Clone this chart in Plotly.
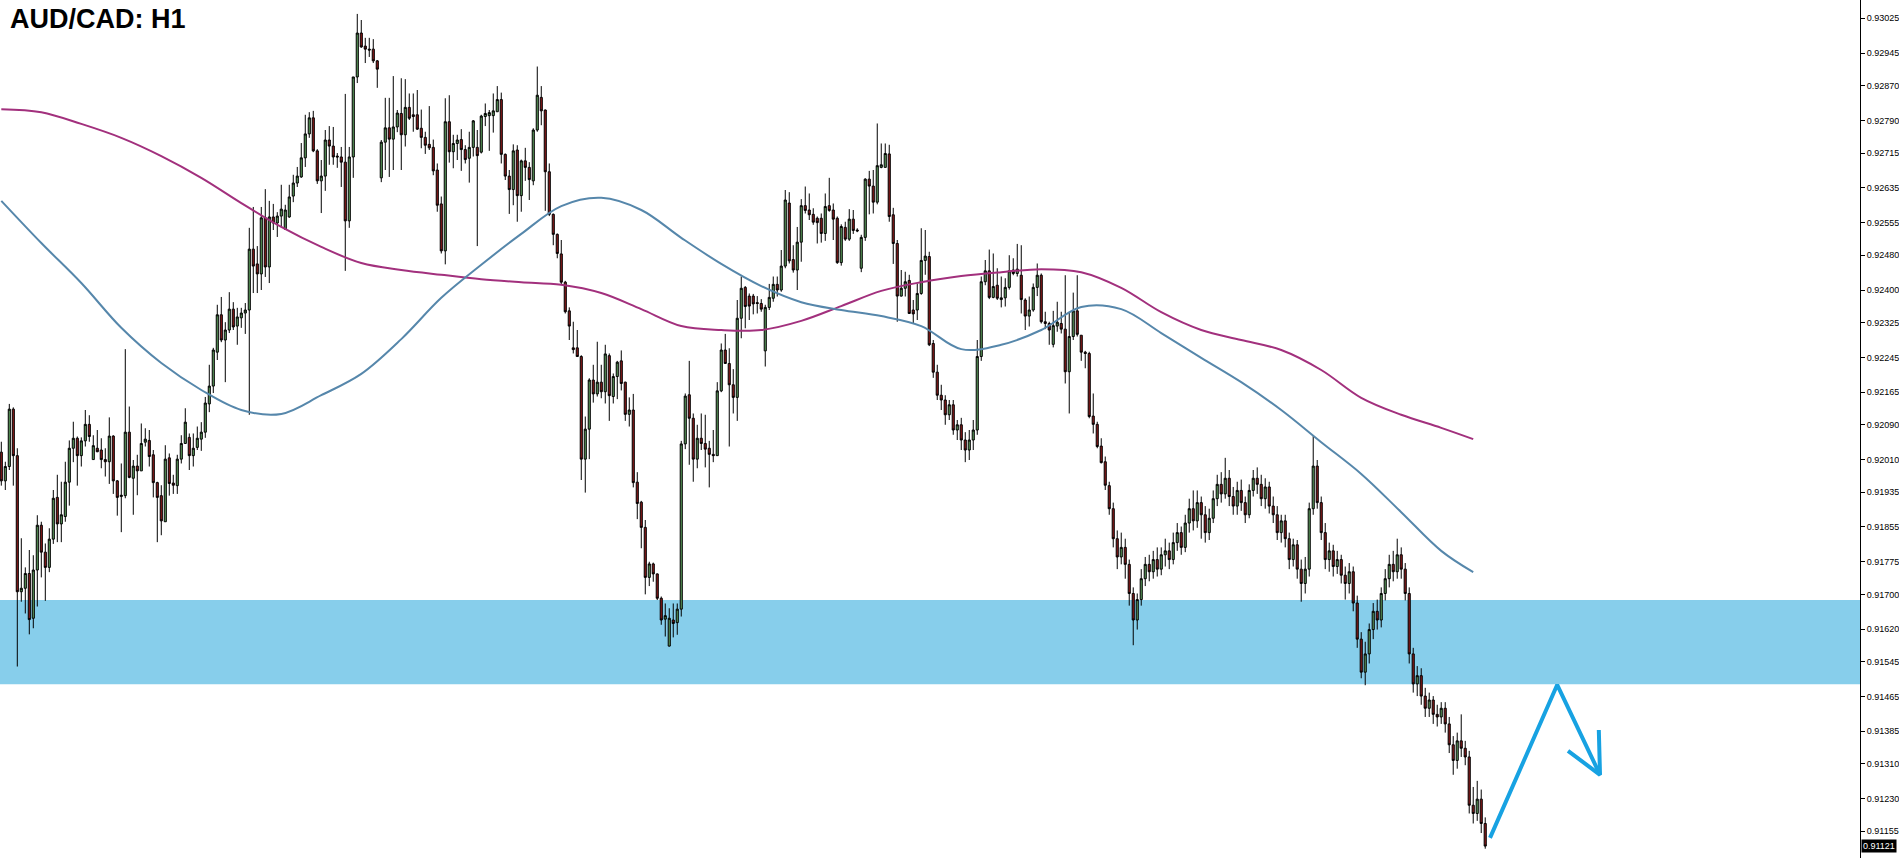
import numpy as np
import plotly.graph_objects as go

# ---- price data (in points, 1 point = 0.00001) ----
OPEN_PTS = [92027,91961,91994,92126,92019,91706,91714,91748,91645,91756,91859,91797,91762,91827,91923,91862,91879,91958,92036,92059,
92019,92053,92091,92010,92036,92032,92010,92005,92064,91961,91925,91927,92073,91967,91995,91984,92050,92054,92021,91957,
91927,91867,92014,91956,91950,92011,92047,92061,92019,92038,92057,92073,92138,92179,92257,92343,92285,92308,92356,92317,
92336,92347,92354,92494,92460,92437,92566,92453,92568,92554,92570,92540,92568,92616,92646,92660,92704,92759,92796,92720,
92651,92662,92745,92731,92708,92706,92694,92559,92706,92890,92991,92961,92954,92954,92927,92658,92740,92773,92747,92775,
92806,92757,92820,92803,92803,92772,92751,92735,92728,92676,92598,92490,92787,92718,92737,92746,92723,92703,92728,92728,
92717,92799,92801,92801,92810,92838,92712,92662,92631,92722,92617,92697,92682,92651,92768,92843,92814,92672,92574,92528,
92483,92418,92352,92267,92267,92247,92011,92080,92193,92161,92188,92166,92249,92155,92201,92237,92188,92114,92124,91958,
91912,91854,91739,91770,91747,91691,91643,91581,91641,91635,91666,92046,92159,92105,92011,92059,92047,92036,92022,92019,
92168,92262,92231,92182,92153,92335,92406,92386,92386,92371,92369,92260,92360,92381,92413,92400,92455,92600,92470,92446,
92510,92594,92584,92574,92565,92565,92530,92594,92584,92565,92463,92544,92517,92563,92538,92450,92521,92655,92639,92602,
92682,92682,92713,92573,92507,92386,92404,92422,92354,92354,92392,92468,92477,92277,92211,92158,92147,92113,92136,92078,
92090,92055,92032,92055,92078,92247,92419,92444,92383,92411,92378,92382,92406,92446,92438,92434,92377,92340,92354,92406,
92434,92327,92323,92275,92317,92323,92310,92212,92293,92352,92296,92257,92254,92110,92091,92041,92005,91950,91897,91828,
91786,91808,91769,91702,91641,91688,91736,91769,91752,91780,91758,91791,91800,91780,91819,91842,91808,91864,91897,91869,
91911,91883,91842,91875,91920,91953,91931,91967,91925,91903,91939,91911,91883,91939,91967,91953,91920,91947,91903,91883,
91842,91869,91828,91780,91814,91758,91725,91758,91897,91995,91911,91842,91780,91800,91764,91780,91744,91725,91752,91680,
91597,91521,91563,91619,91661,91641,91702,91736,91769,91752,91791,91758,91702,91563,91494,91513,91466,91438,91457,91424,
91418,91438,91402,91354,91318,91363,91346,91326,91215,91196,91229,91173]
HIGH_PTS = [92051,92005,92138,92130,92036,91829,91762,91802,91790,91882,91867,91817,91852,91940,91975,91959,92005,92054,92097,92063,
92061,92124,92112,92066,92078,92059,92036,92107,92066,91963,92001,92264,92132,92009,92021,92093,92082,92078,92032,91959,
91951,92043,92024,91975,92021,92066,92128,92070,92070,92086,92096,92154,92228,92267,92366,92384,92326,92395,92372,92359,
92359,92370,92543,92591,92501,92591,92632,92605,92598,92579,92642,92596,92642,92665,92683,92738,92803,92809,92812,92724,
92699,92768,92777,92775,92715,92729,92851,92729,92890,93035,93021,92980,92980,92977,92929,92745,92842,92842,92892,92814,
92887,92885,92852,92852,92860,92815,92764,92823,92746,92691,92615,92841,92848,92757,92757,92770,92733,92764,92791,92768,
92803,92829,92814,92852,92869,92854,92714,92676,92735,92733,92700,92727,92694,92772,92914,92869,92815,92691,92576,92530,
92515,92421,92360,92327,92308,92250,92109,92197,92228,92281,92228,92274,92254,92208,92237,92261,92189,92153,92161,91981,
91915,91871,91775,91773,91748,91695,91679,91668,91679,91679,92053,92162,92237,92116,92090,92116,92113,92053,92078,92188,
92277,92299,92266,92218,92377,92431,92409,92392,92391,92386,92379,92366,92414,92431,92431,92492,92630,92625,92503,92545,
92609,92638,92622,92588,92569,92576,92622,92658,92599,92569,92551,92557,92586,92584,92542,92527,92657,92674,92676,92783,
92737,92737,92734,92589,92515,92446,92442,92435,92377,92415,92542,92538,92488,92285,92228,92182,92158,92147,92147,92101,
92106,92073,92078,92101,92285,92431,92469,92493,92484,92450,92431,92427,92480,92473,92506,92503,92381,92385,92415,92461,
92438,92350,92327,92352,92373,92350,92434,92350,92394,92434,92296,92260,92258,92162,92097,92059,92017,91959,91911,91847,
91842,91828,91780,91716,91702,91758,91786,91791,91800,91808,91808,91828,91819,91842,91864,91856,91883,91920,91939,91939,
91925,91903,91897,91939,91975,91981,92014,91986,91947,91959,91964,91925,91953,91986,91992,91975,91967,91959,91925,91903,
91883,91883,91842,91828,91825,91780,91786,91911,92064,92009,91925,91864,91819,91814,91800,91791,91764,91772,91764,91697,
91613,91591,91633,91680,91688,91716,91758,91791,91800,91828,91808,91772,91716,91577,91535,91530,91485,91474,91466,91446,
91452,91452,91418,91374,91382,91424,91363,91340,91257,91271,91251,91187]
LOW_PTS = [91950,91940,91986,91950,91534,91683,91656,91608,91622,91672,91739,91685,91751,91816,91820,91820,91867,91904,92004,91950,
91994,92040,92051,92010,92027,91990,91971,91954,91931,91881,91843,91921,91967,91883,91928,91984,92040,91994,91923,91820,
91836,91867,91927,91931,91931,92001,92047,91986,91994,92032,92030,92060,92119,92163,92239,92280,92188,92301,92308,92274,
92313,92299,92113,92393,92393,92400,92430,92416,92538,92522,92547,92538,92566,92602,92637,92658,92683,92750,92717,92644,
92577,92628,92688,92688,92681,92637,92444,92543,92658,92876,92957,92922,92936,92922,92865,92648,92676,92660,92676,92763,
92676,92730,92791,92764,92768,92726,92713,92722,92664,92580,92484,92459,92693,92680,92699,92674,92691,92647,92707,92501,
92714,92777,92720,92762,92810,92691,92653,92575,92595,92557,92580,92651,92607,92641,92764,92779,92582,92570,92503,92473,
92411,92346,92285,92254,92247,91963,91934,92011,92141,92155,92151,92139,92099,92139,92149,92169,92099,92086,91946,91873,
91806,91700,91719,91729,91687,91630,91603,91580,91601,91607,91649,92034,91998,91959,91990,92032,91992,91946,92004,92019,
92165,92230,92040,92116,92099,92289,92312,92331,92344,92346,92350,92224,92354,92373,92385,92396,92450,92461,92440,92400,
92465,92576,92561,92550,92507,92509,92513,92580,92515,92460,92456,92513,92513,92529,92533,92441,92513,92574,92576,92597,
92680,92682,92557,92460,92327,92385,92385,92345,92323,92331,92389,92435,92271,92198,92147,92124,92090,92101,92067,92055,
92032,92004,92009,92032,92067,92237,92411,92379,92381,92377,92360,92362,92401,92434,92431,92346,92308,92316,92350,92386,
92323,92310,92274,92268,92304,92300,92185,92116,92285,92293,92237,92220,92105,92070,92036,92001,91940,91883,91808,91758,
91769,91736,91674,91583,91619,91674,91719,91730,91736,91741,91744,91764,91758,91769,91800,91791,91797,91842,91847,91853,
91828,91819,91825,91864,91903,91911,91920,91903,91883,91883,91892,91864,91875,91925,91931,91903,91897,91886,91864,91825,
91819,91808,91758,91764,91736,91683,91702,91741,91883,91897,91825,91758,91752,91741,91747,91725,91688,91702,91661,91577,
91507,91491,91541,91597,91619,91624,91686,91716,91730,91736,91736,91686,91541,91474,91466,91446,91418,91418,91402,91396,
91402,91382,91335,91285,91299,91326,91307,91196,91173,91179,91151,91115]
CLOSE_PTS = [91961,91994,92126,92019,91706,91714,91748,91642,91756,91859,91797,91762,91827,91921,91862,91883,91958,92036,92059,92019,
92053,92091,92063,92042,92028,92010,92005,92064,91961,91923,91928,92073,91969,91995,91984,92047,92057,92017,91957,91923,
91869,92011,91955,91951,92011,92047,92096,92019,92036,92059,92073,92140,92179,92262,92343,92285,92308,92356,92315,92338,
92347,92354,92494,92455,92437,92566,92453,92568,92554,92570,92586,92584,92614,92646,92662,92704,92759,92796,92720,92651,
92662,92745,92731,92706,92706,92694,92559,92706,92890,92991,92959,92954,92952,92927,92908,92740,92773,92747,92775,92807,
92757,92820,92795,92799,92770,92751,92733,92727,92674,92595,92490,92787,92718,92737,92745,92723,92700,92728,92789,92709,
92800,92806,92808,92812,92838,92712,92662,92631,92720,92617,92697,92682,92654,92768,92848,92812,92672,92574,92528,92484,
92418,92350,92317,92263,92247,92011,92080,92193,92161,92188,92166,92253,92157,92201,92234,92185,92114,92124,91957,91909,
91854,91739,91770,91747,91691,91641,91651,91645,91633,91666,92046,92156,92105,92011,92059,92047,92034,92022,92019,92168,
92262,92231,92182,92153,92335,92404,92362,92363,92368,92369,92356,92360,92383,92413,92400,92455,92607,92467,92446,92510,
92594,92583,92573,92556,92555,92530,92592,92583,92563,92463,92546,92517,92563,92537,92536,92521,92655,92639,92602,92686,
92688,92714,92569,92507,92386,92404,92419,92346,92345,92392,92468,92478,92274,92211,92158,92147,92113,92136,92078,92090,
92055,92032,92055,92078,92247,92419,92444,92383,92408,92381,92382,92406,92444,92438,92448,92378,92340,92354,92406,92434,
92327,92323,92308,92318,92326,92310,92212,92293,92352,92298,92257,92254,92109,92091,92040,92003,91951,91897,91828,91786,
91808,91769,91702,91641,91688,91736,91769,91752,91780,91758,91791,91800,91780,91819,91842,91808,91864,91897,91869,91911,
91883,91842,91875,91920,91953,91931,91967,91925,91903,91939,91911,91883,91939,91967,91953,91920,91947,91903,91883,91842,
91869,91828,91780,91814,91758,91725,91758,91897,91995,91911,91842,91780,91800,91764,91780,91744,91725,91752,91680,91597,
91521,91563,91619,91661,91641,91702,91736,91769,91752,91791,91758,91702,91563,91494,91513,91466,91438,91457,91424,91418,
91438,91402,91354,91318,91363,91346,91326,91215,91196,91229,91173,91121]

# moving averages, sampled every 10 bars (bar index -> points)
MA_IDX = [0,10,20,30,40,50,60,70,80,90,100,110,120,130,140,150,160,170,180,190,200,210,220,230,240,250,260,270,280,290,300,310,320,330,340,350,360,368]
MA_SLOW_PTS = [92816,92809,92782,92750,92708,92658,92600,92545,92499,92462,92446,92435,92425,92418,92412,92393,92356,92317,92308,92308,
92329,92363,92398,92418,92432,92441,92448,92441,92405,92349,92308,92285,92262,92216,92152,92113,92083,92057]
MA_FAST_PTS = [92605,92508,92416,92313,92232,92170,92124,92115,92158,92207,92287,92382,92458,92529,92593,92612,92584,92520,92460,92409,
92372,92354,92340,92317,92264,92274,92308,92361,92356,92301,92244,92188,92124,92050,91977,91889,91800,91751]

ZONE_LOW, ZONE_HIGH = 0.91493, 0.91687
ARROW_X = [372.2, 389.0, 399.7]
ARROW_Y = [0.91140, 0.91492, 0.91285]
HEAD_X = [391.7, 399.7, 399.4]
HEAD_Y = [0.91340, 0.91285, 0.91388]
LAST_PRICE = 0.91121
TICK_LABELS = ["0.93025","0.92945","0.92870","0.92790","0.92715","0.92635","0.92555","0.92480","0.92400","0.92325",
"0.92245","0.92165","0.92090","0.92010","0.91935","0.91855","0.91775","0.91700","0.91620","0.91545","0.91465",
"0.91385","0.91310","0.91230","0.91155"]

o = np.array(OPEN_PTS) / 1e5
h = np.array(HIGH_PTS) / 1e5
l = np.array(LOW_PTS) / 1e5
c = np.array(CLOSE_PTS) / 1e5
x = np.arange(len(o))

fig = go.Figure()
fig.add_trace(go.Candlestick(
    x=x, open=o, high=h, low=l, close=c,
    increasing=dict(fillcolor="#5b9a5b", line=dict(color="#000000", width=1)),
    decreasing=dict(fillcolor="#8b1a1a", line=dict(color="#000000", width=1)),
    whiskerwidth=0, hoverinfo="skip", showlegend=False))
fig.add_trace(go.Scatter(x=MA_IDX, y=np.array(MA_SLOW_PTS) / 1e5, mode="lines",
                         line=dict(color="#a2307d", width=2, shape="spline"), showlegend=False, hoverinfo="skip"))
fig.add_trace(go.Scatter(x=MA_IDX, y=np.array(MA_FAST_PTS) / 1e5, mode="lines",
                         line=dict(color="#5687ab", width=2, shape="spline"), showlegend=False, hoverinfo="skip"))
fig.add_trace(go.Scatter(x=ARROW_X, y=ARROW_Y, mode="lines",
                         line=dict(color="#17a2e2", width=4), showlegend=False, hoverinfo="skip"))
fig.add_trace(go.Scatter(x=HEAD_X, y=HEAD_Y, mode="lines",
                         line=dict(color="#17a2e2", width=4), showlegend=False, hoverinfo="skip"))

fig.add_shape(type="rect", xref="paper", x0=0, x1=1, yref="y", y0=ZONE_LOW, y1=ZONE_HIGH,
              fillcolor="#87ceeb", line=dict(width=0), layer="below")

fig.add_annotation(text="<b>AUD/CAD: H1</b>", xref="paper", yref="paper", x=0, y=1,
                   xanchor="left", yanchor="top", xshift=8, yshift=-2, showarrow=False,
                   font=dict(family="Liberation Sans", size=27, color="#000000"))
fig.add_annotation(text=f"{LAST_PRICE:.5f}", xref="paper", yref="y", x=1, y=LAST_PRICE,
                   xanchor="left", yanchor="middle", xshift=1, showarrow=False,
                   bgcolor="#000000", borderpad=1,
                   font=dict(family="Liberation Sans", size=9, color="#ffffff"))

fig.update_layout(
    width=1899, height=858, paper_bgcolor="#ffffff", plot_bgcolor="#ffffff",
    margin=dict(l=0, r=39, t=0, b=0), boxgap=0.25,
    xaxis=dict(visible=False, range=[-0.325, 464.7], rangeslider=dict(visible=False)),
    yaxis=dict(side="right", range=[0.910936, 0.93067], showgrid=False, zeroline=False,
               showline=True, linecolor="#000000", linewidth=1, ticks="outside", ticklen=4,
               tickcolor="#000000", tickvals=[float(t) for t in TICK_LABELS], ticktext=TICK_LABELS,
               tickfont=dict(family="Liberation Sans", size=9, color="#000000")),
)
fig.write_html("out.html", config={"displayModeBar": False},
               post_script="document.body.style.margin='0';document.body.style.overflow='hidden';")
